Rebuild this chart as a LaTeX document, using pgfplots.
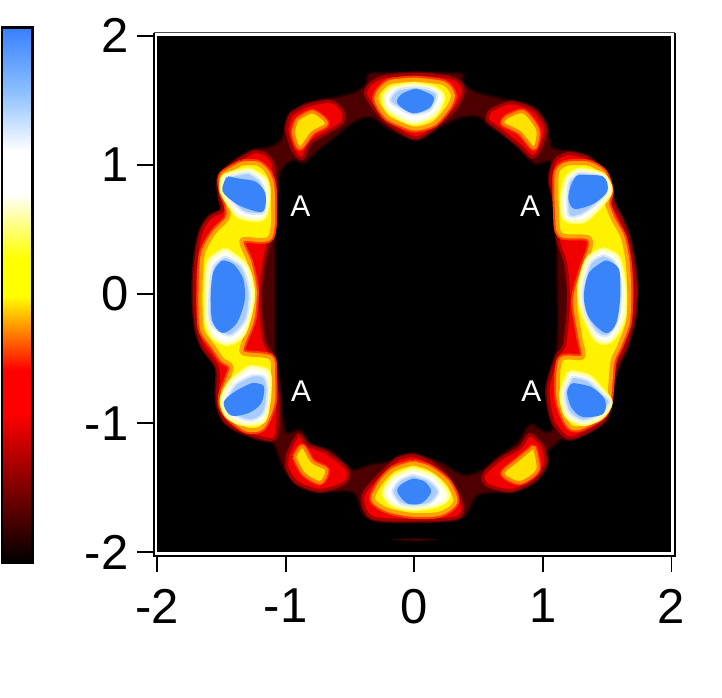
\documentclass[border=0pt]{standalone}
\usepackage{fontspec}
\setmainfont{Liberation Sans}
\usepackage{pgfplots}
\pgfplotsset{compat=1.18}
\definecolor{hblue}{HTML}{3A84FA}
\pgfplotsset{
  lv0/.style={smooth,tension=.5,fill=red!30!black,draw=red!15!black,line width=2pt,line join=round},
  hole/.style={smooth,tension=.5,fill=black,draw=red!15!black,line width=2pt,line join=round},
  lv2/.style={smooth,tension=.5,fill={rgb,255:red,240;green,0;blue,0},preaction={draw={rgb,255:red,90;green,0;blue,0},line width=6pt},draw={rgb,255:red,165;green,0;blue,0},line width=3pt,line join=round},
  lv3/.style={smooth,tension=.5,fill=yellow,preaction={draw={rgb,255:red,255;green,60;blue,0},line width=8pt},draw={rgb,255:red,255;green,160;blue,0},line width=4pt,line join=round},
  lv3s/.style={smooth,tension=.5,fill={rgb,255:red,255;green,225;blue,0},preaction={draw={rgb,255:red,255;green,50;blue,0},line width=6pt},draw={rgb,255:red,255;green,130;blue,0},line width=3pt,line join=round},
  lv4/.style={smooth,tension=.5,fill=white,preaction={draw={rgb,255:red,255;green,255;blue,90},line width=6pt},draw={rgb,255:red,255;green,255;blue,190},line width=3pt,line join=round},
  lv5/.style={smooth,tension=.5,fill={rgb,255:red,168;green,204;blue,255},draw={rgb,255:red,216;green,232;blue,255},line width=2pt,line join=round},
  lv6/.style={smooth,tension=.5,fill=hblue,draw=hblue,line width=3pt,line join=round},
}
\begin{document}
\begin{tikzpicture}[x=1pt,y=1pt]
\path[use as bounding box] (0,0) rectangle (722,697);
% colour scale
\begin{axis}[at={(2pt,134pt)},anchor=south west,scale only axis,width=30pt,height=535pt,
  xmin=0,xmax=1,ymin=0,ymax=1,hide axis,view={0}{90},
  colormap={imgmap}{rgb255(0)=(0,0,0) rgb255(28)=(255,0,0) rgb255(36)=(255,0,0) rgb255(50)=(255,255,0) rgb255(57)=(255,255,0) rgb255(69)=(255,255,255) rgb255(77)=(255,255,255) rgb255(88)=(140,192,255) rgb255(100)=(56,128,255)}]
\addplot3[surf,shader=interp,mesh/cols=2,point meta=\thisrow{v}] table {
x y z v
0 0 0 0
1 0 0 0
0 0.14 0 0.14
1 0.14 0 0.14
0 0.28 0 0.28
1 0.28 0 0.28
0 0.36 0 0.36
1 0.36 0 0.36
0 0.50 0 0.50
1 0.50 0 0.50
0 0.57 0 0.57
1 0.57 0 0.57
0 0.69 0 0.69
1 0.69 0 0.69
0 0.77 0 0.77
1 0.77 0 0.77
0 0.88 0 0.88
1 0.88 0 0.88
0 1 0 1
1 1 0 1
};
\end{axis}
\draw[black,line width=2.2pt] (2,134) rectangle (32.5,669.5);
% main map
\begin{axis}[at={(157pt,144.7pt)},anchor=south west,scale only axis,width=514.5pt,height=516.6pt,
  xmin=-2,xmax=2,ymin=-2,ymax=2,
  axis background/.style={fill=black},
  axis line style={draw=none},
  xtick={-2,-1,0,1,2},ytick={-2,-1,0,1,2},
  xticklabels={-2,-1,0,1,2},yticklabels={-2,-1,0,1,2},
  xtick pos=bottom,ytick pos=left,tick align=outside,
  major tick length=20pt,
  tick style={black,line width=1.8pt},
  ticklabel style={font=\fontsize{49}{49}\selectfont},
  xticklabel style={yshift=-13pt},
  yticklabel style={xshift=-5pt},
  no markers,clip=true]
% outer ring
\addplot[lv0] coordinates {(0,1.71)(.36,1.71)(.38,1.63)(.49,1.56)(.65,1.52)(.82,1.48)(.96,1.42)(1.02,1.29)(1.06,1.19)(1.08,1.13)(1.27,1.09)(1.38,1.02)(1.49,.90)(1.54,.73)(1.59,.61)(1.66,.50)(1.70,.29)(1.73,.05)(1.70,-.20)(1.66,-.41)(1.59,-.57)(1.54,-.72)(1.52,-.87)(1.49,-.98)(1.35,-1.05)(1.24,-1.11)(1.14,-1.13)(1.03,-1.23)(1.00,-1.34)(.90,-1.46)(.69,-1.53)(.49,-1.56)(.37,-1.73)(-.01,-1.75)(-.37,-1.73)(-.47,-1.54)(-.68,-1.53)(-.89,-1.48)(-1.02,-1.34)(-1.10,-1.15)(-1.22,-1.13)(-1.38,-1.05)(-1.49,-.96)(-1.52,-.84)(-1.52,-.59)(-1.59,-.49)(-1.66,-.38)(-1.70,-.22)(-1.72,-.02)(-1.71,.19)(-1.69,.39)(-1.65,.52)(-1.56,.61)(-1.49,.67)(-1.51,.78)(-1.52,.91)(-1.41,1.02)(-1.28,1.11)(-1.12,1.14)(-1.04,1.19)(-1.00,1.29)(-.94,1.41)(-.79,1.48)(-.63,1.52)(-.47,1.56)(-.37,1.63)(-.34,1.71)(0,1.71)};
\addplot[hole] coordinates {(.01,1.19)(.20,1.29)(.37,1.37)(.51,1.37)(.57,1.31)(.75,1.19)(.93,1.01)(1.07,1.01)(1.10,.63)(1.11,.19)(1.11,-.38)(1.04,-.69)(1.04,-.82)(1.08,-1.03)(1.02,-1.07)(.90,-1.01)(.80,-1.15)(.65,-1.26)(.54,-1.36)(.38,-1.40)(.20,-1.30)(-.01,-1.25)(-.21,-1.30)(-.34,-1.32)(-.50,-1.36)(-.65,-1.21)(-.79,-1.18)(-.89,-1.05)(-.99,-1.08)(-1.02,-.95)(-1.04,-.69)(-1.07,-.53)(-1.08,-.41)(-1.08,-.02)(-1.08,.42)(-1.08,.63)(-1.04,.94)(-.94,1.04)(-.86,1.01)(-.75,1.11)(-.60,1.23)(-.47,1.33)(-.34,1.37)(-.19,1.27)(.01,1.19)};
\addplot[fill={rgb,255:red,60;green,0;blue,0},draw=none] coordinates {(-.2,-1.9)(0,-1.89)(.2,-1.9)(0,-1.915)} -- cycle;
% red
\addplot[lv2] coordinates {(-.34,1.63)(-.24,1.68)(.01,1.70)(.26,1.68)(.36,1.63)(.38,1.56)(.33,1.45)(.23,1.35)(.10,1.25)(.01,1.21)(-.09,1.25)(-.24,1.35)(-.34,1.48)(-.38,1.56)(-.34,1.63)};
\addplot[lv2] coordinates {(-.96,1.39)(-.83,1.46)(-.65,1.49)(-.56,1.42)(-.56,1.33)(-.68,1.25)(-.81,1.17)(-.87,1.05)(-.94,1.11)(-.99,1.27)(-.96,1.39)};
\addplot[lv2] coordinates {(.59,1.42)(.75,1.48)(.93,1.42)(1.02,1.28)(.98,1.13)(.92,1.06)(.82,1.15)(.67,1.27)(.57,1.35)(.59,1.42)};
\addplot[lv2] coordinates {(-.98,-1.23)(-.90,-1.09)(-.83,-1.17)(-.68,-1.23)(-.52,-1.36)(-.54,-1.46)(-.73,-1.52)(-.91,-1.46)(-.99,-1.34)(-.98,-1.23)};
\addplot[lv2] coordinates {(1.00,-1.18)(.90,-1.09)(.82,-1.19)(.67,-1.28)(.54,-1.40)(.57,-1.48)(.75,-1.52)(.93,-1.44)(1.02,-1.31)(1.00,-1.18)};
\addplot[lv2] coordinates {(-.01,-1.25)(-.13,-1.28)(-.29,-1.42)(-.40,-1.57)(-.33,-1.73)(-.01,-1.75)(.33,-1.73)(.37,-1.62)(.26,-1.42)(.12,-1.30)(-.01,-1.25)};
\addplot[lv2] coordinates {(-1.25,1.10)(-1.39,1.02)(-1.51,.91)(-1.51,.77)(-1.49,.65)(-1.59,.59)(-1.66,.47)(-1.70,.24)(-1.71,-.02)(-1.69,-.26)(-1.64,-.41)(-1.53,-.57)(-1.53,-.77)(-1.52,-.87)(-1.47,-.98)(-1.37,-1.05)(-1.20,-1.11)(-1.08,-1.11)(-1.06,-.87)(-1.08,-.64)(-1.10,-.49)(-1.17,-.36)(-1.20,-.05)(-1.18,.19)(-1.14,.38)(-1.10,.50)(-1.08,.80)(-1.10,1.01)(-1.17,1.09)(-1.25,1.10)};
\addplot[lv2] coordinates {(1.20,1.09)(1.35,1.05)(1.49,.91)(1.54,.71)(1.60,.59)(1.66,.44)(1.70,.24)(1.72,.03)(1.70,-.20)(1.64,-.41)(1.58,-.53)(1.54,-.67)(1.52,-.84)(1.47,-.98)(1.31,-1.08)(1.19,-1.11)(1.08,-.98)(1.04,-.74)(1.11,-.49)(1.17,-.38)(1.20,-.05)(1.18,.22)(1.12,.42)(1.10,.70)(1.06,.88)(1.10,1.04)(1.20,1.09)};
% yellow
\addplot[lv3] coordinates {(-1.34,1.01)(-1.49,.92)(-1.49,.80)(-1.45,.69)(-1.45,.59)(-1.56,.47)(-1.64,.32)(-1.66,.11)(-1.66,-.18)(-1.64,-.30)(-1.56,-.41)(-1.49,-.51)(-1.42,-.57)(-1.49,-.77)(-1.49,-.87)(-1.43,-.96)(-1.30,-1.05)(-1.18,-1.03)(-1.10,-.84)(-1.10,-.61)(-1.12,-.49)(-1.33,-.46)(-1.33,-.38)(-1.26,-.20)(-1.24,.03)(-1.28,.24)(-1.34,.42)(-1.12,.44)(-1.10,.80)(-1.14,.94)(-1.22,1.01)(-1.34,1.01)};
\addplot[lv3] coordinates {(1.19,1.01)(1.35,1.01)(1.47,.94)(1.52,.80)(1.50,.70)(1.55,.57)(1.62,.44)(1.66,.24)(1.67,.01)(1.66,-.22)(1.59,-.41)(1.54,-.53)(1.51,-.84)(1.45,-.95)(1.27,-1.04)(1.19,-1.00)(1.12,-.80)(1.14,-.51)(1.31,-.49)(1.29,-.33)(1.25,-.05)(1.31,.19)(1.37,.36)(1.35,.44)(1.14,.46)(1.11,.63)(1.11,.94)(1.19,1.01)};
\addplot[lv3] coordinates {(.01,1.66)(-.19,1.64)(-.28,1.56)(-.29,1.49)(-.21,1.37)(-.09,1.31)(.01,1.28)(.15,1.32)(.26,1.44)(.30,1.54)(.23,1.63)(.01,1.66)};
\addplot[lv3] coordinates {(-.01,-1.31)(-.16,-1.36)(-.26,-1.46)(-.32,-1.59)(-.21,-1.67)(-.01,-1.71)(.20,-1.70)(.32,-1.61)(.26,-1.46)(.12,-1.35)(-.01,-1.31)};
\addplot[lv3s] coordinates {(-.91,1.35)(-.79,1.41)(-.68,1.32)(-.79,1.25)(-.89,1.13)(-.94,1.25)(-.91,1.35)};
\addplot[lv3s] coordinates {(.72,1.37)(.85,1.41)(.96,1.27)(.93,1.13)(.82,1.25)(.69,1.32)(.72,1.37)};
\addplot[lv3s] coordinates {(-.93,-1.26)(-.87,-1.18)(-.79,-1.30)(-.68,-1.36)(-.73,-1.46)(-.86,-1.39)(-.93,-1.26)};
\addplot[lv3s] coordinates {(.93,-1.18)(.96,-1.36)(.82,-1.46)(.69,-1.39)(.81,-1.28)(.93,-1.18)};
% white
\addplot[lv4] coordinates {(-1.28,.96)(-1.47,.91)(-1.49,.80)(-1.43,.69)(-1.35,.60)(-1.18,.59)(-1.14,.75)(-1.16,.88)(-1.28,.96)};
\addplot[lv4] coordinates {(-1.47,.34)(-1.59,.25)(-1.61,.05)(-1.61,-.20)(-1.56,-.33)(-1.45,-.38)(-1.33,-.30)(-1.26,-.02)(-1.31,.21)(-1.47,.34)};
\addplot[lv4] coordinates {(-1.28,-.57)(-1.42,-.68)(-1.49,-.82)(-1.45,-.94)(-1.33,-1.00)(-1.18,-.98)(-1.14,-.82)(-1.14,-.61)(-1.28,-.57)};
\addplot[lv4] coordinates {(1.29,.96)(1.46,.92)(1.52,.80)(1.43,.67)(1.31,.57)(1.17,.59)(1.16,.78)(1.20,.91)(1.29,.96)};
\addplot[lv4] coordinates {(1.46,.34)(1.58,.28)(1.63,.05)(1.62,-.20)(1.52,-.36)(1.41,-.34)(1.31,-.12)(1.29,.05)(1.35,.26)(1.46,.34)};
\addplot[lv4] coordinates {(1.21,-.61)(1.35,-.64)(1.45,-.74)(1.52,-.84)(1.45,-.95)(1.31,-1.00)(1.19,-.94)(1.15,-.77)(1.21,-.61)};
\addplot[lv4] coordinates {(-.01,1.62)(-.17,1.59)(-.23,1.52)(-.19,1.42)(-.01,1.33)(.15,1.39)(.22,1.52)(.15,1.59)(-.01,1.62)};
\addplot[lv4] coordinates {(-.01,-1.36)(-.15,-1.42)(-.23,-1.54)(-.16,-1.63)(-.01,-1.66)(.18,-1.63)(.26,-1.56)(.15,-1.42)(-.01,-1.36)};
% light blue
\addplot[lv5] coordinates {(-1.29,.94)(-1.45,.90)(-1.47,.79)(-1.39,.69)(-1.31,.63)(-1.17,.63)(-1.16,.78)(-1.20,.88)(-1.29,.94)};
\addplot[lv5] coordinates {(-1.47,.29)(-1.56,.22)(-1.59,.05)(-1.59,-.20)(-1.52,-.29)(-1.42,-.32)(-1.31,-.20)(-1.28,.01)(-1.34,.21)(-1.47,.29)};
\addplot[lv5] coordinates {(-1.26,-.63)(-1.39,-.70)(-1.47,-.84)(-1.43,-.92)(-1.28,-.98)(-1.17,-.92)(-1.14,-.74)(-1.17,-.64)(-1.26,-.63)};
\addplot[lv5] coordinates {(1.28,.94)(1.46,.91)(1.50,.80)(1.41,.69)(1.29,.61)(1.20,.61)(1.19,.78)(1.21,.88)(1.28,.94)};
\addplot[lv5] coordinates {(1.47,.30)(1.56,.25)(1.61,.05)(1.59,-.18)(1.51,-.32)(1.42,-.30)(1.33,-.15)(1.31,.03)(1.37,.24)(1.47,.30)};
\addplot[lv5] coordinates {(1.23,-.64)(1.35,-.67)(1.46,-.77)(1.52,-.84)(1.43,-.94)(1.31,-.98)(1.20,-.91)(1.17,-.76)(1.23,-.64)};
\addplot[lv5] coordinates {(-.01,1.60)(-.13,1.58)(-.19,1.50)(-.12,1.44)(-.01,1.39)(.12,1.42)(.18,1.54)(.10,1.59)(-.01,1.60)};
\addplot[lv5] coordinates {(-.01,-1.40)(-.11,-1.44)(-.17,-1.53)(-.11,-1.62)(-.01,-1.64)(.12,-1.62)(.19,-1.53)(.11,-1.44)(-.01,-1.40)};
% blue
\addplot[lv6] coordinates {(-1.45,.90)(-1.48,.80)(-1.38,.71)(-1.29,.67)(-1.18,.65)(-1.17,.78)(-1.24,.86)(-1.35,.88)(-1.45,.90)};
\addplot[lv6] coordinates {(-1.49,.25)(-1.55,.17)(-1.57,.01)(-1.56,-.20)(-1.49,-.29)(-1.39,-.22)(-1.33,-.05)(-1.34,.11)(-1.41,.22)(-1.49,.25)};
\addplot[lv6] coordinates {(-1.26,-.70)(-1.38,-.76)(-1.47,-.84)(-1.42,-.93)(-1.29,-.91)(-1.20,-.84)(-1.18,-.72)(-1.26,-.70)};
\addplot[lv6] coordinates {(1.27,.91)(1.46,.90)(1.49,.80)(1.39,.71)(1.25,.67)(1.21,.74)(1.23,.84)(1.27,.91)};
\addplot[lv6] coordinates {(1.49,.25)(1.58,.19)(1.59,-.02)(1.56,-.22)(1.49,-.29)(1.37,-.18)(1.33,-.02)(1.37,.16)(1.49,.25)};
\addplot[lv6] coordinates {(1.23,-.70)(1.37,-.73)(1.47,-.82)(1.46,-.92)(1.31,-.94)(1.23,-.87)(1.20,-.76)(1.23,-.70)};
\addplot[lv6] coordinates {(.01,1.58)(-.09,1.54)(-.12,1.48)(-.01,1.41)(.11,1.45)(.14,1.52)(.07,1.56)(.01,1.58)};
\addplot[lv6] coordinates {(-.01,-1.44)(-.09,-1.48)(-.12,-1.53)(-.05,-1.61)(.05,-1.61)(.12,-1.53)(.07,-1.46)(-.01,-1.44)};
\node[white,font=\fontsize{30}{30}\selectfont] at (axis cs:-.886,.68) {A};
\node[white,font=\fontsize{30}{30}\selectfont] at (axis cs:.90,.68) {A};
\node[white,font=\fontsize{30}{30}\selectfont] at (axis cs:-.88,-.75) {A};
\node[white,font=\fontsize{30}{30}\selectfont] at (axis cs:.91,-.75) {A};
\end{axis}
% frame
\draw[white,line width=3.4pt] (155.2,143) rectangle (672.8,662.8);
\draw[black,line width=2pt] (154,664) -- (154,141) -- (675,141) -- (675,664);
\draw[black!70,line width=1pt] (154,664.4) -- (675,664.4);
\end{tikzpicture}
\end{document}
